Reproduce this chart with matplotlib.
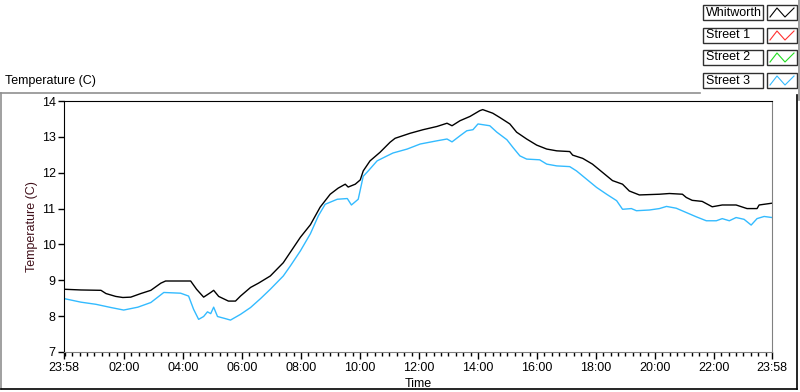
import matplotlib
matplotlib.use("Agg")
import matplotlib.pyplot as plt
from matplotlib.lines import Line2D
from matplotlib.patches import Rectangle
import numpy as np

# hours since midnight; 23:58 of previous day = -2/60
whit_t = [-0.033, 0.54, 1.22, 1.39, 1.72, 1.96, 2.23, 2.57, 2.91, 3.25, 3.41, 4.26,
          4.46, 4.70, 4.94, 5.04, 5.21, 5.54, 5.78, 5.95, 6.29, 6.56, 6.96, 7.40,
          7.98, 8.32, 8.65, 8.99, 9.26, 9.50, 9.60, 9.84, 10.01, 10.11, 10.34, 10.68,
          11.02, 11.19, 11.70, 12.14, 12.61, 12.95, 13.12, 13.39, 13.73, 14.06, 14.16,
          14.50, 14.74, 15.08, 15.31, 15.65, 15.99, 16.33, 16.67, 17.11, 17.21, 17.55,
          17.88, 18.22, 18.56, 18.90, 19.13, 19.47, 20.15, 20.49, 20.93, 21.06, 21.26,
          21.60, 21.94, 22.28, 22.75, 23.12, 23.46, 23.53, 23.967]
whit_v = [8.75, 8.73, 8.72, 8.63, 8.55, 8.52, 8.53, 8.63, 8.72, 8.92, 8.98, 8.98,
          8.75, 8.53, 8.66, 8.72, 8.55, 8.42, 8.42, 8.56, 8.80, 8.92, 9.12, 9.49,
          10.20, 10.55, 11.04, 11.40, 11.57, 11.68, 11.60, 11.68, 11.80, 12.05, 12.33, 12.57,
          12.85, 12.96, 13.10, 13.20, 13.29, 13.38, 13.31, 13.45, 13.57, 13.73, 13.76,
          13.66, 13.54, 13.36, 13.13, 12.94, 12.77, 12.66, 12.61, 12.59, 12.49, 12.40,
          12.24, 12.01, 11.78, 11.68, 11.49, 11.38, 11.40, 11.42, 11.40, 11.31, 11.23,
          11.20, 11.05, 11.10, 11.10, 11.00, 11.00, 11.10, 11.15]

st3_t = [-0.033, 0.54, 1.05, 1.56, 1.99, 2.47, 2.91, 3.35, 3.92, 4.19, 4.36, 4.53,
         4.70, 4.83, 4.94, 5.04, 5.17, 5.44, 5.61, 5.95, 6.29, 6.63, 6.96, 7.40,
         7.64, 7.98, 8.32, 8.59, 8.82, 9.23, 9.57, 9.71, 9.94, 10.11, 10.28, 10.58,
         10.92, 11.12, 11.60, 12.04, 12.61, 12.95, 13.12, 13.39, 13.62, 13.83, 14.00,
         14.40, 14.64, 14.98, 15.18, 15.42, 15.65, 16.09, 16.33, 16.67, 17.11, 17.34,
         17.68, 18.02, 18.36, 18.70, 18.90, 19.20, 19.37, 19.81, 20.15, 20.39, 20.72,
         21.06, 21.40, 21.74, 22.08, 22.28, 22.52, 22.75, 23.02, 23.26, 23.46, 23.70, 23.967]
st3_v = [8.49, 8.39, 8.33, 8.24, 8.17, 8.25, 8.38, 8.66, 8.64, 8.56, 8.19, 7.91,
         7.99, 8.12, 8.07, 8.25, 7.99, 7.93, 7.89, 8.05, 8.24, 8.49, 8.75, 9.12,
         9.40, 9.82, 10.30, 10.80, 11.12, 11.26, 11.28, 11.10, 11.26, 11.90, 12.05, 12.33,
         12.47, 12.55, 12.66, 12.80, 12.89, 12.94, 12.86, 13.03, 13.17, 13.20, 13.36,
         13.31, 13.13, 12.92, 12.71, 12.47, 12.38, 12.36, 12.24, 12.19, 12.17, 12.05,
         11.82, 11.59, 11.40, 11.22, 10.98, 11.00, 10.94, 10.96, 11.00, 11.06, 11.01,
         10.89, 10.77, 10.66, 10.66, 10.72, 10.66, 10.75, 10.70, 10.54, 10.72, 10.78, 10.75]

# Street 1 and Street 2 have no visible trace
st1_t, st1_v = [], []
st2_t, st2_v = [], []

names = ["Whitworth", "Street 1", "Street 2", "Street 3"]
colors = ["black", "#ff3030", "#20dd20", "#33bbff"]

xticks = [-2 / 60, 2, 4, 6, 8, 10, 12, 14, 16, 18, 20, 22, 23 + 58 / 60]
xlabels = ["23:58", "02:00", "04:00", "06:00", "08:00", "10:00", "12:00",
           "14:00", "16:00", "18:00", "20:00", "22:00", "23:58"]
yticks = [7, 8, 9, 10, 11, 12, 13, 14]

plt.rcParams["font.family"] = ["Liberation Sans", "DejaVu Sans"]
plt.rcParams["font.size"] = 9

W, H = 800, 392
fig = plt.figure(figsize=(W / 100, H / 100), dpi=100)


def fx(x):
    return x / W


def fy(y):
    return 1 - y / H


ax = fig.add_axes([fx(64), fy(352), fx(772) - fx(64), fy(101) - fy(352)])
# blue first, black drawn over it
ax.plot(st3_t, st3_v, color=colors[3], lw=1.0)
ax.plot(st2_t, st2_v, color=colors[2], lw=1.0)
ax.plot(st1_t, st1_v, color=colors[1], lw=1.0)
ax.plot(whit_t, whit_v, color=colors[0], lw=1.0)

ax.set_xlim(xticks[0], xticks[-1])
ax.set_ylim(7, 14)
ax.set_xticks(xticks)
ax.set_xticklabels(xlabels)
ax.set_xticks(np.arange(0, 24, 0.25), minor=True)
ax.set_yticks(yticks)
ax.tick_params(axis="x", which="major", direction="out", length=5, width=1, pad=2)
ax.tick_params(axis="x", which="minor", direction="out", length=3, width=1)
ax.tick_params(axis="y", which="major", direction="out", length=4, width=1, pad=2)
ax.spines["top"].set_color("black")
ax.spines["left"].set_color("black")
ax.spines["right"].set_color("#808080")
ax.spines["bottom"].set_color("#808080")
ax.set_xlabel("Time", labelpad=3)
ax.set_ylabel("Temperature (C)", color="#40101a", labelpad=3)

# panel frame
fig.add_artist(Line2D([fx(0), fx(700)], [fy(93), fy(93)], color="#909090", lw=1.2))
fig.add_artist(Line2D([fx(1), fx(1)], [fy(93), fy(389)], color="#909090", lw=1.2))
fig.add_artist(Line2D([fx(1), fx(797)], [fy(389), fy(389)], color="black", lw=1.2))
fig.add_artist(Line2D([fx(797), fx(797)], [fy(95), fy(389)], color="black", lw=1.2))
fig.add_artist(Line2D([fx(799), fx(799)], [fy(0), fy(100)], color="#909090", lw=1.2))
fig.text(fx(5), fy(81), "Temperature (C)", ha="left", va="center")

# legend
row_tops = [5, 28, 50, 73]
for name, c, top in zip(names, colors, row_tops):
    fig.add_artist(Rectangle((fx(703), fy(top + 15)), fx(60), fy(0) - fy(15),
                             facecolor="white", edgecolor="#303030", lw=1.0))
    fig.text(fx(706), fy(top + 7.5), name, ha="left", va="center", fontsize=9)
    fig.add_artist(Rectangle((fx(767), fy(top + 15)), fx(30), fy(0) - fy(15),
                             facecolor="white", edgecolor="#303030", lw=1.0))
    fig.add_artist(Line2D([fx(770), fx(777), fx(785), fx(794)],
                          [fy(top + 12), fy(top + 3), fy(top + 12), fy(top + 3)],
                          color=c, lw=0.8))

fig.savefig("out.png", dpi=100)
